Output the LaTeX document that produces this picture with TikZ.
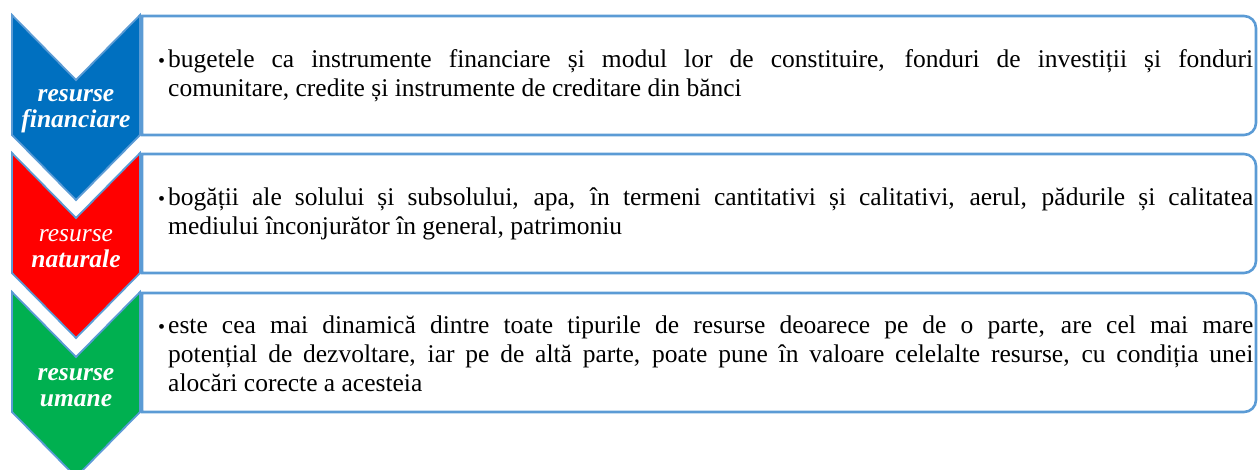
\documentclass[tikz,border=0pt]{standalone}
\usepackage{fontspec}
\setmainfont{Liberation Serif}
\usepackage{xcolor}
\usepackage{tikz}
\usetikzlibrary{positioning}

\definecolor{finblue}{HTML}{0070C0}
\definecolor{natred}{HTML}{FF0000}
\definecolor{umagreen}{HTML}{00B050}
\definecolor{edgeblue}{HTML}{5B9BD5}

\newcommand{\bul}{\llap{{\fontsize{20}{20}\selectfont\textbullet}\hspace{3pt}}}

\begin{document}
\begin{tikzpicture}[x=1pt,y=1pt,
    chev/.style={draw=edgeblue,line width=1.8pt,line join=miter},
    boxline/.style={draw=edgeblue,line width=2.6pt},
    chevtext/.style={text=white,align=center,font=\fontsize{25.5}{26}\selectfont\bfseries\itshape},
    boxtext/.style={anchor=west,text width=1085pt,align=justify,inner sep=0pt,font=\fontsize{25.5}{29}\selectfont}]
  \useasboundingbox (0,0) rectangle (1258,-470);
  % sagetile din stanga
  \filldraw[chev,fill=finblue] (12,-15) -- (76,-80) -- (140,-15) -- (140,-135) -- (76,-200) -- (12,-135) -- cycle;
  \filldraw[chev,fill=natred] (12,-153) -- (76,-218) -- (140,-153) -- (140,-273) -- (76,-338) -- (12,-273) -- cycle;
  \filldraw[chev,fill=umagreen] (12,-292) -- (76,-357) -- (140,-292) -- (140,-412) -- (76,-477) -- (12,-412) -- cycle;
  \node[chevtext] (fin) at (76,-111) {resurse\\financiare};
  \node[chevtext] (nat) at (76,-249) {{\mdseries resurse}\\naturale};
  \node[chevtext] (uma) at (76,-388) {resurse\\umane};
  % casetele
  \draw[boxline] (142,-16) -- (1244,-16) arc[start angle=90,end angle=0,radius=12] -- (1256,-123) arc[start angle=0,end angle=-90,radius=12] -- (142,-135) -- cycle;
  \draw[boxline] (142,-154) -- (1244,-154) arc[start angle=90,end angle=0,radius=12] -- (1256,-261) arc[start angle=0,end angle=-90,radius=12] -- (142,-273) -- cycle;
  \draw[boxline] (142,-293) -- (1244,-293) arc[start angle=90,end angle=0,radius=12] -- (1256,-400) arc[start angle=0,end angle=-90,radius=12] -- (142,-412) -- cycle;
  \node[boxtext] (finbox) at (168,-76) {\bul bugetele ca instrumente financiare și modul lor de constituire, fonduri de investiții și fonduri\linebreak comunitare, credite și instrumente de creditare din bănci};
  \node[boxtext] (natbox) at (168,-214) {\bul bogății ale solului și subsolului, apa, în termeni cantitativi și calitativi, aerul, pădurile și calitatea\linebreak mediului înconjurător în general, patrimoniu};
  \node[boxtext] (umabox) at (168,-354) {\bul este cea mai dinamică dintre toate tipurile de resurse deoarece pe de o parte, are cel mai mare\linebreak potențial de dezvoltare, iar pe de altă parte, poate pune în valoare celelalte resurse, cu condiția unei\linebreak alocări corecte a acesteia};
\end{tikzpicture}
\end{document}
